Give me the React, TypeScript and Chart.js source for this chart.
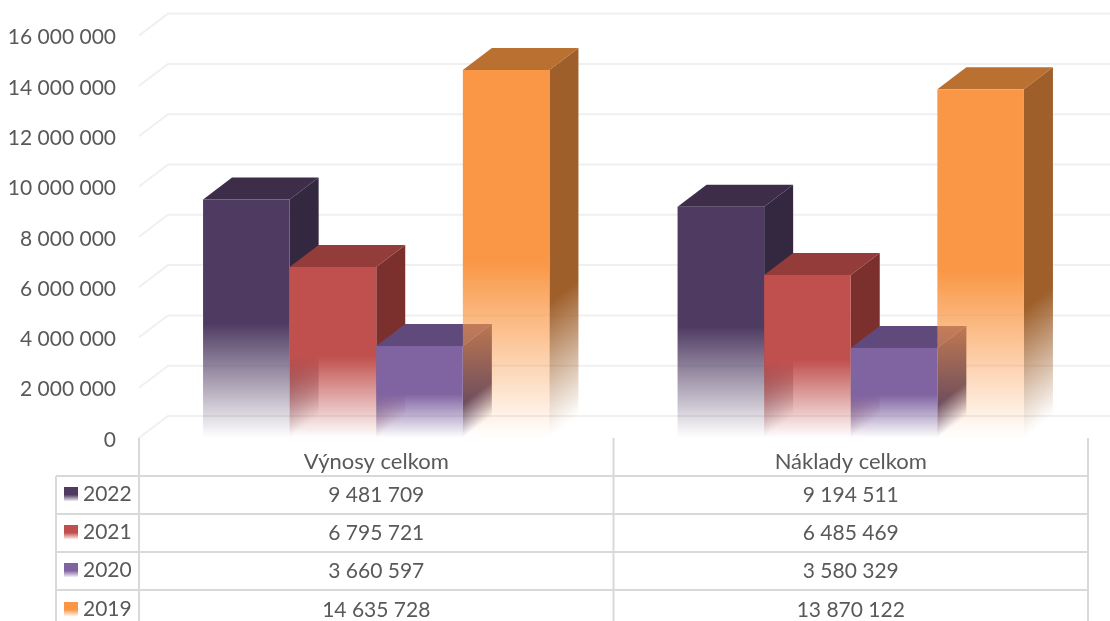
import React, { useEffect, useRef } from "react";
import { Chart, registerables } from "chart.js";

Chart.register(...registerables);

const categories = ["Výnosy celkom", "Náklady celkom"];
const seriesNames = ["2022", "2021", "2020", "2019"];
const values2022 = [9481709, 9194511];
const values2021 = [6795721, 6485469];
const values2020 = [3660597, 3580329];
const values2019 = [14635728, 13870122];
const frontColors = ["#4f3b62", "#c0504d", "#8064a2", "#f99746"];
const topColors = ["#3e2d49", "#933c3a", "#604a7b", "#b97030"];
const sideColors = ["#332840", "#7c302e", "#4d3c63", "#9e5f2a"];

const DEPTH_X = 29;
const DEPTH_Y = 22;
const FONT = "Lato, Carlito, Calibri, sans-serif";
const TEXT = "#595959";
const LINE = "#d9d9d9";
const GRID = "#f0f0f0";
const FRONT_FADE_FROM = 0.52;
const SIDE_FADE_FROM = 0.63;
const ROW_LINES = [476, 514, 552, 590];
const ROW_TEXT = [494, 532, 570, 609];

const fmt = (n: number) => String(n).replace(/\B(?=(\d{3})+(?!\d))/g, " ");

function rgba(hex: string, a: number) {
  const v = parseInt(hex.slice(1), 16);
  return `rgba(${(v >> 16) & 255},${(v >> 8) & 255},${v & 255},${a})`;
}

function fade(ctx: CanvasRenderingContext2D, top: number, base: number, color: string, from: number) {
  if (!Number.isFinite(top) || !Number.isFinite(base)) return color;
  const g = ctx.createLinearGradient(0, top, 0, base);
  g.addColorStop(0, rgba(color, 1));
  g.addColorStop(from, rgba(color, 1));
  g.addColorStop(0.98, rgba(color, 0.04));
  g.addColorStop(1, rgba(color, 0));
  return g;
}

const box3d = {
  id: "box3d",
  beforeDatasetsDraw(chart: any) {
    const { ctx, scales } = chart;
    const { x: xs, y: ys } = scales;
    ctx.save();
    ctx.strokeStyle = GRID;
    ctx.lineWidth = 2;
    ys.ticks.forEach((t: any) => {
      const y = ys.getPixelForValue(t.value);
      ctx.beginPath();
      ctx.moveTo(xs.left, y);
      ctx.lineTo(xs.left + DEPTH_X, y - DEPTH_Y);
      ctx.lineTo(xs.right + DEPTH_X, y - DEPTH_Y);
      ctx.stroke();
    });
    ctx.restore();

    chart.data.datasets.forEach((_: any, i: number) => {
      const meta = chart.getDatasetMeta(i);
      meta.data.forEach((el: any) => {
        const x1 = el.x + el.width / 2;
        const x0 = el.x - el.width / 2;
        const top = el.y;
        const base = el.base;
        ctx.save();
        ctx.beginPath();
        ctx.moveTo(x0, top);
        ctx.lineTo(x0 + DEPTH_X, top - DEPTH_Y);
        ctx.lineTo(x1 + DEPTH_X, top - DEPTH_Y);
        ctx.lineTo(x1, top);
        ctx.closePath();
        ctx.fillStyle = topColors[i];
        ctx.fill();
        ctx.restore();

        ctx.save();
        ctx.transform(1, -DEPTH_Y / DEPTH_X, 0, 1, x1, 0);
        ctx.fillStyle = fade(ctx, top, base, sideColors[i], SIDE_FADE_FROM);
        ctx.fillRect(0, top, DEPTH_X, base - top);
        ctx.restore();
      });
      meta.controller.draw();
    });
    return false;
  },
  afterDraw(chart: any) {
    const { ctx, scales } = chart;
    const { x: xs, y: ys } = scales;
    const bottom = chart.height;
    const mid = (xs.getPixelForValue(0) + xs.getPixelForValue(1)) / 2;
    ctx.save();
    ctx.strokeStyle = LINE;
    ctx.lineWidth = 2;
    [xs.left, mid, xs.right].forEach((x: number) => {
      ctx.beginPath();
      ctx.moveTo(x, ys.bottom);
      ctx.lineTo(x, bottom);
      ctx.stroke();
    });
    ctx.beginPath();
    ctx.moveTo(56, ROW_LINES[0]);
    ctx.lineTo(56, bottom);
    ctx.stroke();
    ROW_LINES.forEach((y) => {
      ctx.beginPath();
      ctx.moveTo(56, y);
      ctx.lineTo(xs.right, y);
      ctx.stroke();
    });
    ctx.font = `21px ${FONT}`;
    ctx.fillStyle = TEXT;
    ctx.textBaseline = "middle";
    chart.data.datasets.forEach((ds: any, i: number) => {
      const y = ROW_TEXT[i];
      const g = ctx.createLinearGradient(0, y - 7, 0, y + 7);
      g.addColorStop(0, rgba(frontColors[i], 1));
      g.addColorStop(0.55, rgba(frontColors[i], 1));
      g.addColorStop(1, rgba(frontColors[i], 0.1));
      ctx.fillStyle = g;
      ctx.fillRect(64, y - 7, 14, 14);
      ctx.fillStyle = TEXT;
      ctx.textAlign = "left";
      ctx.fillText(ds.label, 83, y);
      ctx.textAlign = "center";
      ds.data.forEach((v: number, k: number) => {
        ctx.fillText(fmt(v), xs.getPixelForValue(k), y + 1);
      });
    });
    ctx.restore();
  },
};

export default function App() {
  const ref = useRef<HTMLCanvasElement>(null);
  useEffect(() => {
    const all = [values2022, values2021, values2020, values2019];
    const chart = new Chart(ref.current as HTMLCanvasElement, {
      type: "bar",
      plugins: [box3d as any],
      data: {
        labels: categories,
        datasets: seriesNames.map((name, i) => ({
          label: name,
          data: all[i],
          categoryPercentage: 0.73,
          barPercentage: 1,
          borderWidth: 0,
          backgroundColor: (c: any) => {
            if (c.raw === undefined) return frontColors[i];
            const ys = c.chart.scales.y;
            return fade(c.chart.ctx, ys.getPixelForValue(c.raw), ys.getPixelForValue(0), frontColors[i], FRONT_FADE_FROM);
          },
        })),
      },
      options: {
        animation: false,
        responsive: false,
        layout: { padding: { top: 35, right: 22, left: 0, bottom: 0 } },
        plugins: { legend: { display: false }, tooltip: { enabled: false } },
        scales: {
          x: {
            grid: { display: false },
            border: { display: false },
            afterFit: (s: any) => { s.height = 183; },
            ticks: { color: TEXT, font: { family: FONT, size: 22 }, padding: 3, maxRotation: 0, autoSkip: false },
          },
          y: {
            min: 0,
            max: 16000000,
            grid: { display: false, drawTicks: false },
            border: { display: false },
            afterFit: (s: any) => { s.width = 139; },
            ticks: {
              stepSize: 2000000,
              color: TEXT,
              padding: 23,
              labelOffset: 2,
              font: { family: FONT, size: 21 },
              callback: (v: any) => fmt(Number(v)),
            },
          },
        },
      },
    } as any);
    return () => chart.destroy();
  }, []);
  return (
    <canvas
      ref={ref}
      width={1110}
      height={621}
      style={{ position: "fixed", left: 0, top: 0, width: 1110, height: 621, background: "#fff" }}
    />
  );
}
